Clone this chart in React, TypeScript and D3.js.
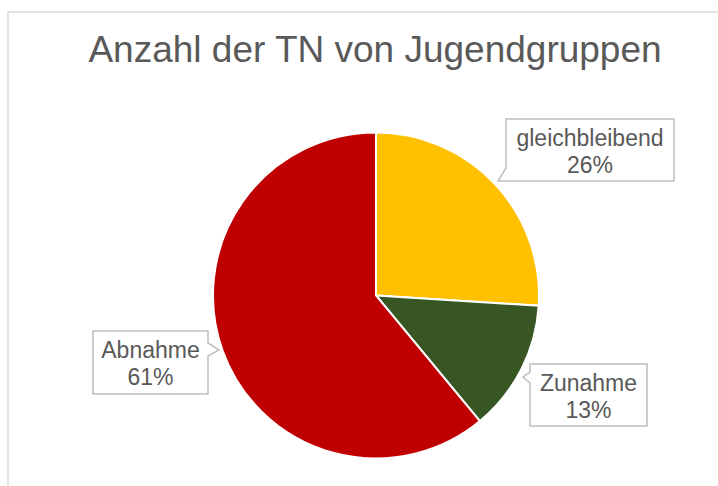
import React from "react";
import * as d3 from "d3";

const categories = ["gleichbleibend", "Zunahme", "Abnahme"];
const values = [26, 13, 61];
const colors = ["#FFC000", "#375623", "#C00000"];
const title = "Anzahl der TN von Jugendgruppen";

const W = 718;
const H = 486;
const cx = 376;
const cy = 295.5;
const R = 163;

// callout layout: box x0,y0,x1,y1 and pointer polygon side
type Callout = { x0: number; y0: number; x1: number; y1: number; ptr: string };
const callouts: Record<string, Callout> = {
  gleichbleibend: { x0: 506, y0: 119, x1: 674, y1: 181, ptr: "bl" },
  Zunahme: { x0: 530, y0: 364, x1: 647, y1: 426, ptr: "lt" },
  Abnahme: { x0: 93, y0: 331, x1: 208, y1: 394, ptr: "r" },
};

function calloutPath(c: Callout): string {
  const { x0, y0, x1, y1, ptr } = c;
  if (ptr === "bl") {
    return `M${x0},${y0}H${x1}V${y1}H${x0 - 8}L${x0},${y1 - 13}Z`;
  }
  if (ptr === "lt") {
    return `M${x0},${y0}H${x1}V${y1}H${x0}V${y0 + 19}L${x0 - 7},${y0 + 13}L${x0},${y0 + 8}Z`;
  }
  // right
  const my = y0 + 19;
  return `M${x0},${y0}H${x1}V${my - 7}L${x1 + 11},${my}L${x1},${my + 6}V${y1}H${x0}Z`;
}

export default function App() {
  const pie = d3
    .pie<number>()
    .sort(null)
    .value((d) => d)(values);
  const arc = d3.arc<d3.PieArcDatum<number>>().innerRadius(0).outerRadius(R);
  const font = "'Liberation Sans', Arial, sans-serif";
  return (
    <>
      <style>{`body{margin:0}`}</style>
      <svg width={W} height={H} style={{ display: "block" }}>
        <rect x={0} y={0} width={W} height={H} fill="#fff" />
        <line x1={8} y1={12} x2={W} y2={12} stroke="#d9d9d9" strokeWidth={1.5} />
        <line x1={8} y1={12} x2={8} y2={H} stroke="#d9d9d9" strokeWidth={1.5} />
        <text
          x={375}
          y={62}
          textAnchor="middle"
          fontFamily={font}
          fontSize={37}
          fill="#595959"
        >
          {title}
        </text>
        <g transform={`translate(${cx},${cy})`}>
          {pie.map((p, i) => (
            <path key={i} d={arc(p) || ""} fill={colors[i]} stroke="#fff" strokeWidth={2} />
          ))}
        </g>
        {categories.map((c, i) => {
          const co = callouts[c];
          const mx = (co.x0 + co.x1) / 2;
          return (
            <g key={c}>
              <path d={calloutPath(co)} fill="#fff" stroke="#bfbfbf" strokeWidth={1.5} />
              <text
                x={mx}
                y={co.y0 + 26.5}
                textAnchor="middle"
                fontFamily={font}
                fontSize={23}
                fill="#595959"
              >
                {c}
              </text>
              <text
                x={mx}
                y={co.y0 + 53.5}
                textAnchor="middle"
                fontFamily={font}
                fontSize={23}
                fill="#595959"
              >
                {`${values[i]}%`}
              </text>
            </g>
          );
        })}
      </svg>
    </>
  );
}
